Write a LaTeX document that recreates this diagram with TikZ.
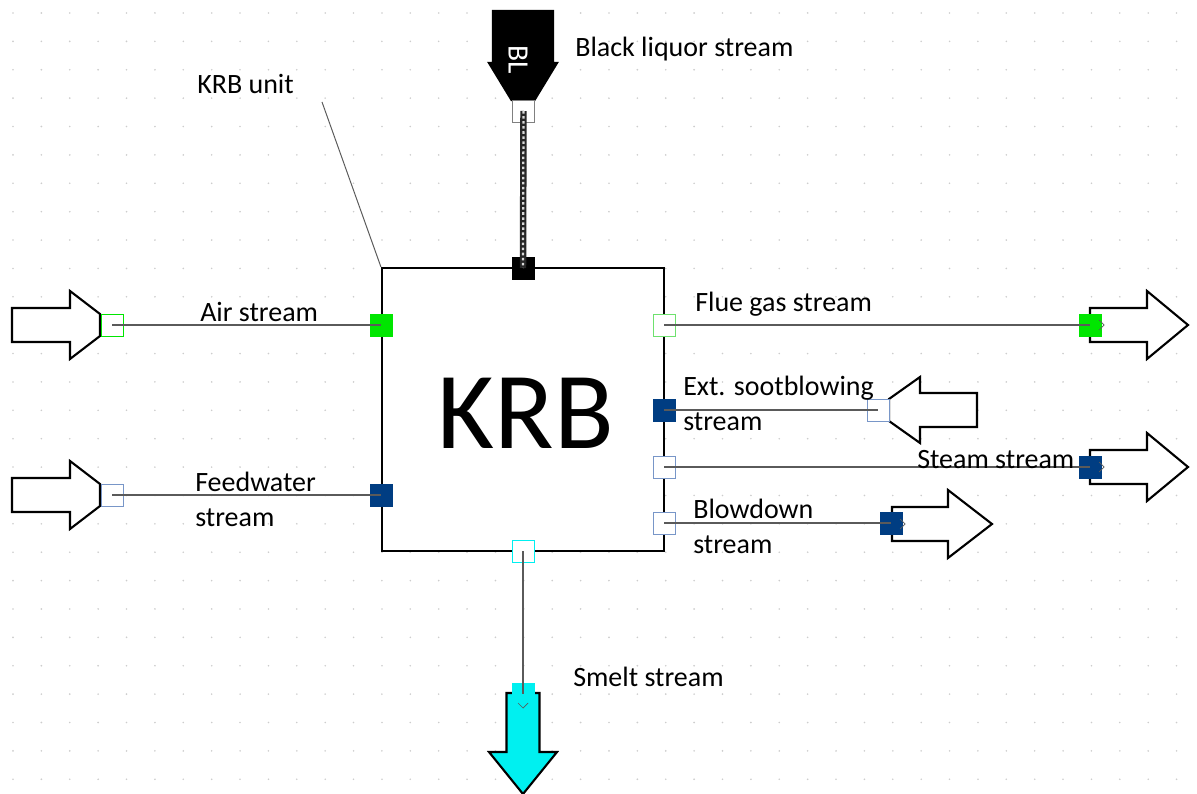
\documentclass[tikz,border=0pt]{standalone}
\usepackage{fontspec}
\setmainfont{Carlito}
\usetikzlibrary{positioning}

\definecolor{portgreen}{RGB}{0,230,0}
\definecolor{palegreen}{RGB}{110,225,110}
\definecolor{portnavy}{RGB}{0,61,130}
\definecolor{portblue}{RGB}{120,150,200}
\definecolor{portcyan}{RGB}{0,240,240}
\definecolor{gridgray}{RGB}{205,205,205}
\definecolor{linkgray}{RGB}{90,90,90}

\begin{document}
\begin{tikzpicture}[
  x=0.025cm,y=-0.025cm,
  port/.style={rectangle,minimum size=0.55cm,inner sep=0pt,line width=0.7pt},
  openport/.style={port,draw=#1,fill=white},
  fullport/.style={port,draw=#1,fill=#1},
  blockarrow/.style={draw=black,fill=white,line width=1.5pt},
  link/.style={draw=linkgray,line width=0.8pt},
  rope/.style={draw=black!85,line width=4.6pt,postaction={draw=white!85!black,line width=1.6pt,dash pattern=on 1.8pt off 1.8pt}},
  tag/.style={font=\fontsize{19.9pt}{24.5pt}\selectfont,anchor=base west,inner sep=0pt,align=left},
  tick/.style={draw=linkgray,line width=0.5pt}
]

\useasboundingbox (0,0) rectangle (1197,794);

% dotted grid
\foreach \i in {0,...,41}
  \foreach \j in {0,...,27}
    \fill[gridgray] ({13+28.38*\i},{13+28.38*\j}) circle (0.9);

% recovery boiler
\node[draw,line width=1.5pt,fill=white,minimum width=7.05cm,minimum height=7.075cm,inner sep=0pt] (krb) at (523,409.5) {};
\node[font=\fontsize{78pt}{80pt}\selectfont,inner sep=0pt] (krbtxt) at (526,413) {KRB};

% stream arrows
\draw[blockarrow,shift={(0,325)}] (12,-17) -- (70,-17) -- (70,-34) -- (100,-11) -- (100,11) -- (70,34) -- (70,17) -- (12,17) -- cycle;
\draw[blockarrow,shift={(0,495)}] (12,-17) -- (70,-17) -- (70,-34) -- (100,-11) -- (100,11) -- (70,34) -- (70,17) -- (12,17) -- cycle;
\draw[blockarrow,shift={(0,410)}] (977,-17) -- (920,-17) -- (920,-33) -- (889,-11) -- (889,11) -- (920,33) -- (920,17) -- (977,17) -- cycle;
\draw[blockarrow,shift={(0,325)}] (1090,-17) -- (1147,-17) -- (1147,-34) -- (1188,0) -- (1147,34) -- (1147,17) -- (1090,17) -- cycle;
\draw[blockarrow,shift={(0,467)}] (1090,-17) -- (1147,-17) -- (1147,-34) -- (1188,0) -- (1147,34) -- (1147,17) -- (1090,17) -- cycle;
\draw[blockarrow,shift={(0,524)}] (892,-17) -- (948,-17) -- (948,-34) -- (992,0) -- (948,34) -- (948,17) -- (892,17) -- cycle;
\draw[blockarrow,fill=portcyan,shift={(523,0)}] (-16.5,693) -- (-16.5,752) -- (-34,752) -- (0,794) -- (34,752) -- (16.5,752) -- (16.5,693) -- cycle;
\draw[blockarrow,fill=black,shift={(523,0)}] (-30,11) -- (30,11) -- (30,63) -- (34,63) -- (11.5,100) -- (-11.5,100) -- (-34,63) -- (-30,63) -- cycle;
\node[white,rotate=-90,font=\fontsize{21pt}{24pt}\selectfont,inner sep=0pt] (bl) at (518,60) {BL};

% ports
\node[openport=gray] (blout) at (523.5,111) {};
\node[fullport=black] (blin) at (523,268) {};
\node[openport=portgreen] (airout) at (112,325) {};
\node[fullport=portgreen] (airin) at (381,325) {};
\node[openport=portblue] (fwout) at (112,495) {};
\node[fullport=portnavy] (fwin) at (381,495) {};
\node[openport=palegreen] (flueout) at (664,325) {};
\node[fullport=portgreen] (fluein) at (1090,325) {};
\node[fullport=portnavy] (sootin) at (664,410) {};
\node[openport=portblue] (sootout) at (878,410) {};
\node[openport=portblue] (steamout) at (664,467) {};
\node[fullport=portnavy] (steamin) at (1090,467) {};
\node[openport=portblue] (blowout) at (664,523) {};
\node[fullport=portnavy] (blowin) at (891,523) {};
\node[openport=portcyan] (smeltout) at (523,551) {};
\node[fullport=portcyan] (smeltin) at (523,694) {};

% connections
\path (blout.center) edge[rope] (blin.center);
\path (airout.center) edge[link] (airin.center)
      (fwout.center) edge[link] (fwin.center)
      (flueout.center) edge[link] (fluein.center)
      (sootin.center) edge[link] (sootout.center)
      (steamout.center) edge[link] (steamin.center)
      (blowout.center) edge[link] (blowin.center)
      (smeltout.center) edge[link] (smeltin.center);

% little direction ticks
\draw[tick] (1099,320) -- (1104,325) -- (1099,330);
\draw[tick] (1099,462) -- (1104,467) -- (1099,472);
\draw[tick] (900,519) -- (905,524) -- (900,529);
\draw[tick] (518,703) -- (523,708) -- (528,703);

% labels
\coordinate (unittip) at (322,102);
\path (unittip) edge[draw=linkgray,line width=0.7pt] (krb.north west);
\node[tag] (unitlbl) at (197,94) {KRB unit};
\node[tag] (bllbl) at (575,57) {Black liquor stream};
\node[tag] (airlbl) at (200,321) {Air stream};
\node[tag] (fwlbl) at (195,526) {Feedwater\\stream};
\node[tag] (fluelbl) at (695,311) {Flue gas stream};
\node[tag] (sootlbl) at (683,430) {Ext. sootblowing\\stream};
\node[tag] (steamlbl) at (917,468) {Steam stream};
\node[tag] (blowlbl) at (693,553) {Blowdown\\stream};
\node[tag] (smeltlbl) at (573,686) {Smelt stream};

\end{tikzpicture}
\end{document}
